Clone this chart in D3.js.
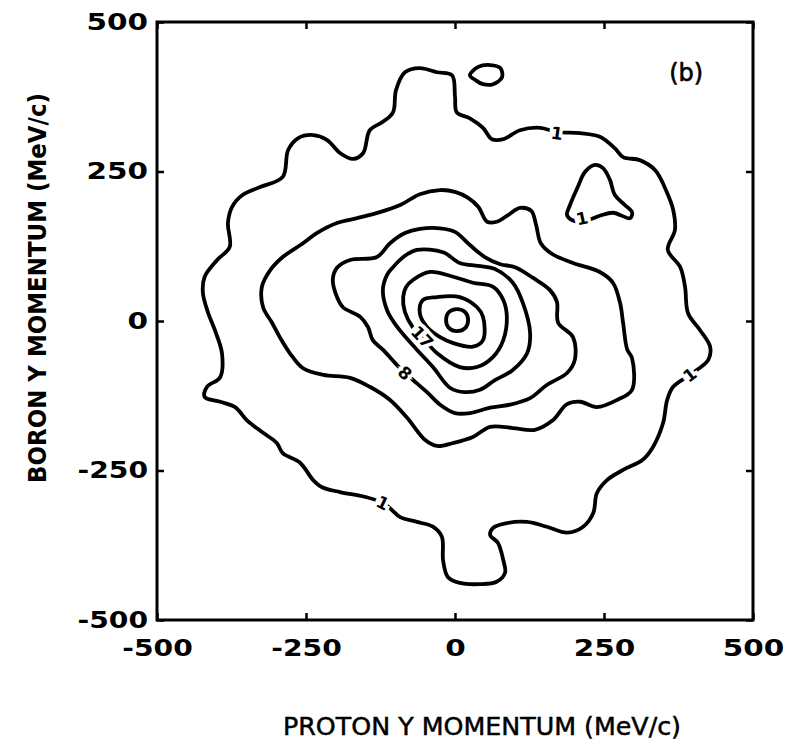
<!DOCTYPE html>
<html>
<head>
<meta charset="utf-8">
<script src="https://cdnjs.cloudflare.com/ajax/libs/d3/7.8.5/d3.min.js"></script>
<style>
  body { margin: 0; background: #fff; }
  svg { display: block; font-family: "DejaVu Sans", sans-serif; }
</style>
</head>
<body>
<script>
// axis ticks and titles (MeV/c)
const tickValues = [-500, -250, 0, 250, 500];
const xTitle = "PROTON Y MOMENTUM (MeV/c)";
const yTitle = "BORON Y MOMENTUM (MeV/c)";
const panelTag = "(b)";

// contour lines as [proton py, boron py] in MeV/c, outermost first
const ring1 = [[-423,47],[-420,74],[-399,102],[-378,124],[-381,164],[-374,191],[-356,211],[-327,224],
  [-289,241],[-280,286],[-263,306],[-238,311],[-215,303],[-193,281],[-171,271],[-154,281],[-143,319],
  [-121,333],[-104,349],[-99,386],[-84,416],[-59,423],[-30,416],[-5,411],[0,375],[3,349],[25,339],
  [47,323],[62,304],[81,304],[109,319],[143,323],[171,316],[210,314],[243,308],[268,289],[282,274],
  [310,269],[336,252],[356,214],[366,186],[369,152],[357,119],[378,90],[386,57],[391,13],[411,-15],
  [428,-43],[425,-65],[394,-90],[366,-110],[356,-132],[349,-171],[332,-211],[315,-232],[282,-249],
  [255,-266],[238,-288],[232,-321],[215,-344],[188,-354],[154,-344],[121,-336],[87,-338],[64,-346],
  [59,-358],[72,-371],[81,-400],[84,-421],[70,-436],[42,-440],[8,-438],[-12,-428],[-20,-400],
  [-22,-361],[-37,-344],[-64,-336],[-92,-328],[-106,-316],[-121,-304],[-151,-294],[-193,-286],
  [-223,-278],[-238,-266],[-260,-237],[-289,-221],[-299,-204],[-322,-187],[-349,-166],[-369,-144],
  [-394,-135],[-420,-127],[-416,-110],[-394,-94],[-391,-54],[-403,-15],[-414,13]];
const ring1Top = [[25,411],[39,425],[59,428],[76,423],[79,408],[64,396],[47,396],[34,403]];
const ring1Right = [[188,177],[193,194],[206,224],[218,249],[235,261],[248,256],[260,236],[268,211],
  [285,194],[297,182],[294,172],[265,181],[243,176],[223,169],[201,167]];
const ring2 = [[-324,57],[-310,85],[-289,107],[-255,130],[-232,147],[-198,164],[-164,172],[-126,182],
  [-92,194],[-59,212],[-25,219],[0,216],[22,206],[39,191],[54,166],[70,166],[89,177],[109,189],
  [128,184],[136,161],[144,130],[163,112],[198,97],[243,82],[265,64],[277,30],[282,-3],[289,-48],
  [297,-62],[297,-115],[272,-132],[238,-144],[210,-135],[188,-139],[164,-166],[134,-182],[97,-179],
  [59,-177],[30,-194],[-3,-204],[-30,-209],[-50,-199],[-81,-161],[-109,-132],[-143,-110],[-176,-95],
  [-221,-90],[-255,-79],[-277,-54],[-294,-27],[-307,-3],[-322,23]];
const ring3 = [[-205,69],[-198,89],[-176,102],[-131,107],[-109,130],[-84,147],[-59,154],[-25,155],
  [0,149],[25,127],[50,107],[76,95],[101,90],[131,72],[159,52],[171,32],[173,-3],[198,-27],[201,-65],
  [188,-87],[154,-107],[126,-129],[92,-140],[59,-145],[25,-154],[0,-154],[-25,-140],[-47,-119],
  [-70,-99],[-84,-87],[-97,-74],[-121,-48],[-138,-32],[-146,-10],[-159,7],[-188,23],[-198,40]];
const ring4 = [[-121,52],[-114,77],[-104,90],[-84,109],[-64,119],[-20,115],[8,97],[39,92],[67,87],
  [97,64],[114,30],[126,-20],[121,-54],[97,-82],[67,-99],[42,-115],[17,-119],[-8,-112],[-37,-77],
  [-64,-48],[-97,-10],[-114,18]];
const ring5 = [[-87,40],[-82,57],[-70,69],[-42,82],[-3,74],[30,64],[64,57],[81,35],[87,7],[81,-32],
  [64,-60],[37,-77],[8,-77],[-30,-54],[-55,-27],[-70,-12],[-84,15]];
const ring6 = [[-59,13],[-54,35],[-30,40],[8,40],[37,23],[47,7],[47,-32],[30,-43],[-3,-37],[-25,-27],[-47,-10]];
const ring7 = [[3,20],[17,15],[22,2],[17,-12],[3,-17],[-10,-12],[-15,2],[-10,15]];

const rings = [ring1, ring1Top, ring1Right, ring2, ring3, ring4, ring5, ring6, ring7];

// contour level labels and where they sit on the lines
const labelText = ["1", "1", "1", "1", "8", "17"];
const labelPx = [171, 394, -121, 213, -84, -55];
const labelPy = [314, -90, -304, 172, -87, -27];
const tagAt = [388, 416];

const width = 791, height = 755;
const x = d3.scaleLinear().domain([-500, 500]).range([157, 753]);
const y = d3.scaleLinear().domain([-500, 500]).range([620, 22]);

const svg = d3.select("body").append("svg")
    .attr("width", width)
    .attr("height", height);

// contours
const line = d3.line()
    .x(d => x(d[0]))
    .y(d => y(d[1]))
    .curve(d3.curveCatmullRomClosed.alpha(0.5));

svg.append("g").selectAll("path")
    .data(rings)
    .join("path")
    .attr("d", line)
    .attr("fill", "none")
    .attr("stroke", "#000")
    .attr("stroke-width", 3.8)
    .attr("stroke-linejoin", "round");

// labels follow the direction of the nearest line
function lineAngle(px, py) {
    let best = null, bestD = Infinity;
    rings.forEach(r => r.forEach((p, i) => {
        const d = (x(p[0]) - px) ** 2 + (y(p[1]) - py) ** 2;
        if (d < bestD) { bestD = d; best = [r, i]; }
    }));
    const [r, i] = best;
    const a = r[(i - 1 + r.length) % r.length], b = r[(i + 1) % r.length];
    let ang = Math.atan2(y(b[1]) - y(a[1]), x(b[0]) - x(a[0])) * 180 / Math.PI;
    if (ang > 90) ang -= 180;
    if (ang < -90) ang += 180;
    return ang;
}

svg.append("g").selectAll("text")
    .data(labelText)
    .join("text")
    .attr("transform", (t, i) => {
        const px = x(labelPx[i]), py = y(labelPy[i]);
        return `translate(${px},${py}) rotate(${lineAngle(px, py)})`;
    })
    .attr("text-anchor", "middle")
    .attr("dy", "0.36em")
    .attr("font-size", 17)
    .attr("font-weight", "bold")
    .attr("fill", "#000")
    .attr("stroke", "#fff")
    .attr("stroke-width", 7)
    .attr("paint-order", "stroke")
    .text(t => t);

// frame
svg.append("rect")
    .attr("x", x(-500))
    .attr("y", y(500))
    .attr("width", x(500) - x(-500))
    .attr("height", y(-500) - y(500))
    .attr("fill", "none")
    .attr("stroke", "#000")
    .attr("stroke-width", 3);

// axes, ticks point inward
const fmt = d => String(d);
const none = () => "";

function styleAxis(g) {
    g.select(".domain").remove();
    g.selectAll(".tick line").attr("stroke", "#000").attr("stroke-width", 2.5);
    g.selectAll(".tick text")
        .attr("fill", "#000")
        .attr("font-size", 23)
        .attr("font-weight", "bold")
        .attr("font-family", "DejaVu Sans, sans-serif")
        .attr("lengthAdjust", "spacingAndGlyphs")
        .attr("textLength", function () {
            const t = this.textContent;
            return t.replace("-", "").length * 20.5 + (t.startsWith("-") ? 9 : 0);
        });
}

svg.append("g")
    .attr("transform", `translate(0,${y(-500)})`)
    .call(d3.axisBottom(x).tickValues(tickValues).tickFormat(fmt).tickSize(-7).tickPadding(20))
    .call(styleAxis);

svg.append("g")
    .attr("transform", `translate(0,${y(500)})`)
    .call(d3.axisTop(x).tickValues(tickValues).tickFormat(none).tickSize(-7))
    .call(styleAxis);

svg.append("g")
    .attr("transform", `translate(${x(-500)},0)`)
    .call(d3.axisLeft(y).tickValues(tickValues).tickFormat(fmt).tickSize(-7).tickPadding(9))
    .call(styleAxis);

svg.append("g")
    .attr("transform", `translate(${x(500)},0)`)
    .call(d3.axisRight(y).tickValues(tickValues).tickFormat(none).tickSize(-7))
    .call(styleAxis);

// titles
svg.append("text")
    .attr("x", 482)
    .attr("y", 735)
    .attr("text-anchor", "middle")
    .attr("font-size", 25)
    .attr("stroke", "#000")
    .attr("stroke-width", 0.5)
    .attr("textLength", 398)
    .attr("lengthAdjust", "spacingAndGlyphs")
    .text(xTitle);

svg.append("text")
    .attr("transform", "translate(46,288) rotate(-90)")
    .attr("text-anchor", "middle")
    .attr("font-size", 25)
    .attr("font-weight", "bold")
    .attr("textLength", 390)
    .attr("lengthAdjust", "spacingAndGlyphs")
    .text(yTitle);

svg.append("text")
    .attr("x", x(tagAt[0]))
    .attr("y", y(tagAt[1]))
    .attr("text-anchor", "middle")
    .attr("dy", "0.36em")
    .attr("font-size", 24)
    .attr("stroke", "#000")
    .attr("stroke-width", 0.6)
    .text(panelTag);
</script>
</body>
</html>
